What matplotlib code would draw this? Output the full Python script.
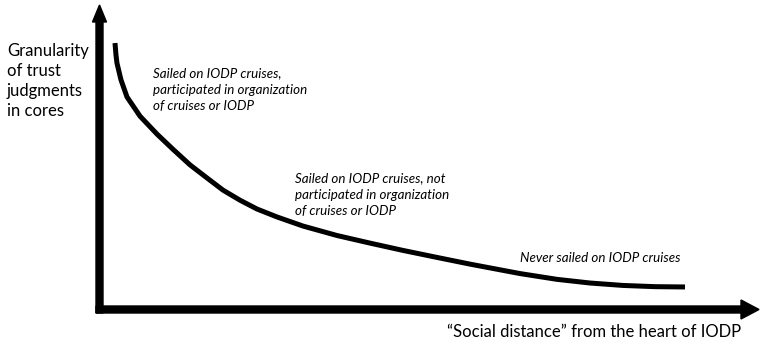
import matplotlib
matplotlib.use("Agg")
import matplotlib.pyplot as plt
from matplotlib.patches import FancyArrow

# curve: social distance vs granularity (axis units 0-100)
distance = [2.35, 2.50, 2.65, 3.26, 4.17, 6.14, 8.72, 11.15, 13.72, 16.30, 18.73,
            21.30, 23.88, 26.91, 30.86, 36.01, 41.02, 46.02, 51.18, 56.18, 63.76,
            69.37, 74.37, 79.38, 84.23, 88.78]
granularity = [87.5, 83.6, 80.9, 75.4, 69.8, 63.5, 57.6, 52.6, 47.5, 43.2, 39.2,
               35.9, 33.0, 30.4, 27.4, 24.3, 21.8, 19.4, 17.1, 14.9, 11.8,
               9.9, 8.7, 7.9, 7.5, 7.4]

y_title = "Granularity\nof trust\njudgments\nin cores"
x_title = "\u201cSocial distance\u201d from the heart of IODP"
groups = [
    "Sailed on IODP cruises,\nparticipated in organization\nof cruises or IODP",
    "Sailed on IODP cruises, not\nparticipated in organization\nof cruises or IODP",
    "Never sailed on IODP cruises",
]

W, H = 765, 342
plt.rcParams["font.family"] = ["Lato", "DejaVu Sans"]
fig = plt.figure(figsize=(W / 100, H / 100), dpi=100)


def fx(px):
    return px / W


def fy(py):
    return 1 - py / H


# axes origin at the corner of the two arrows
x0, y0, x1, y1 = 99.5, 309.5, 759, 5
ax = fig.add_axes([fx(x0), fy(y0), fx(x1) - fx(x0), fy(y1) - fy(y0)])
ax.set_xlim(0, 100)
ax.set_ylim(0, 100)
ax.axis("off")

ax.plot(distance, granularity, color="black", linewidth=3.6,
        solid_capstyle="butt", solid_joinstyle="round")

# axis arrows drawn in figure pixels
lw = 7
fig.add_artist(FancyArrow(fx(x0 - lw / 2), fy(y0), fx(x1) - fx(x0 - lw / 2), 0,
                          width=lw / H, head_width=19 / H, head_length=18 / W,
                          length_includes_head=True, color="black",
                          transform=fig.transFigure))
fig.add_artist(FancyArrow(fx(x0), fy(y0 + lw / 2), 0, fy(y1) - fy(y0 + lw / 2),
                          width=lw / W, head_width=14 / W, head_length=17 / H,
                          length_includes_head=True, color="black",
                          transform=fig.transFigure))

fig.text(fx(7), fy(81), y_title, fontsize=12, ha="left", va="center", linespacing=1.3)
fig.text(fx(447), fy(332), x_title, fontsize=12, ha="left", va="center")

fig.text(fx(153), fy(90), groups[0], fontsize=9.6, style="italic", ha="left", va="center",
         linespacing=1.45)
fig.text(fx(295), fy(195), groups[1], fontsize=9.6, style="italic", ha="left", va="center",
         linespacing=1.45)
fig.text(fx(520), fy(258), groups[2], fontsize=9.6, style="italic", ha="left", va="center")

fig.savefig("out.png", dpi=100, facecolor="white")
